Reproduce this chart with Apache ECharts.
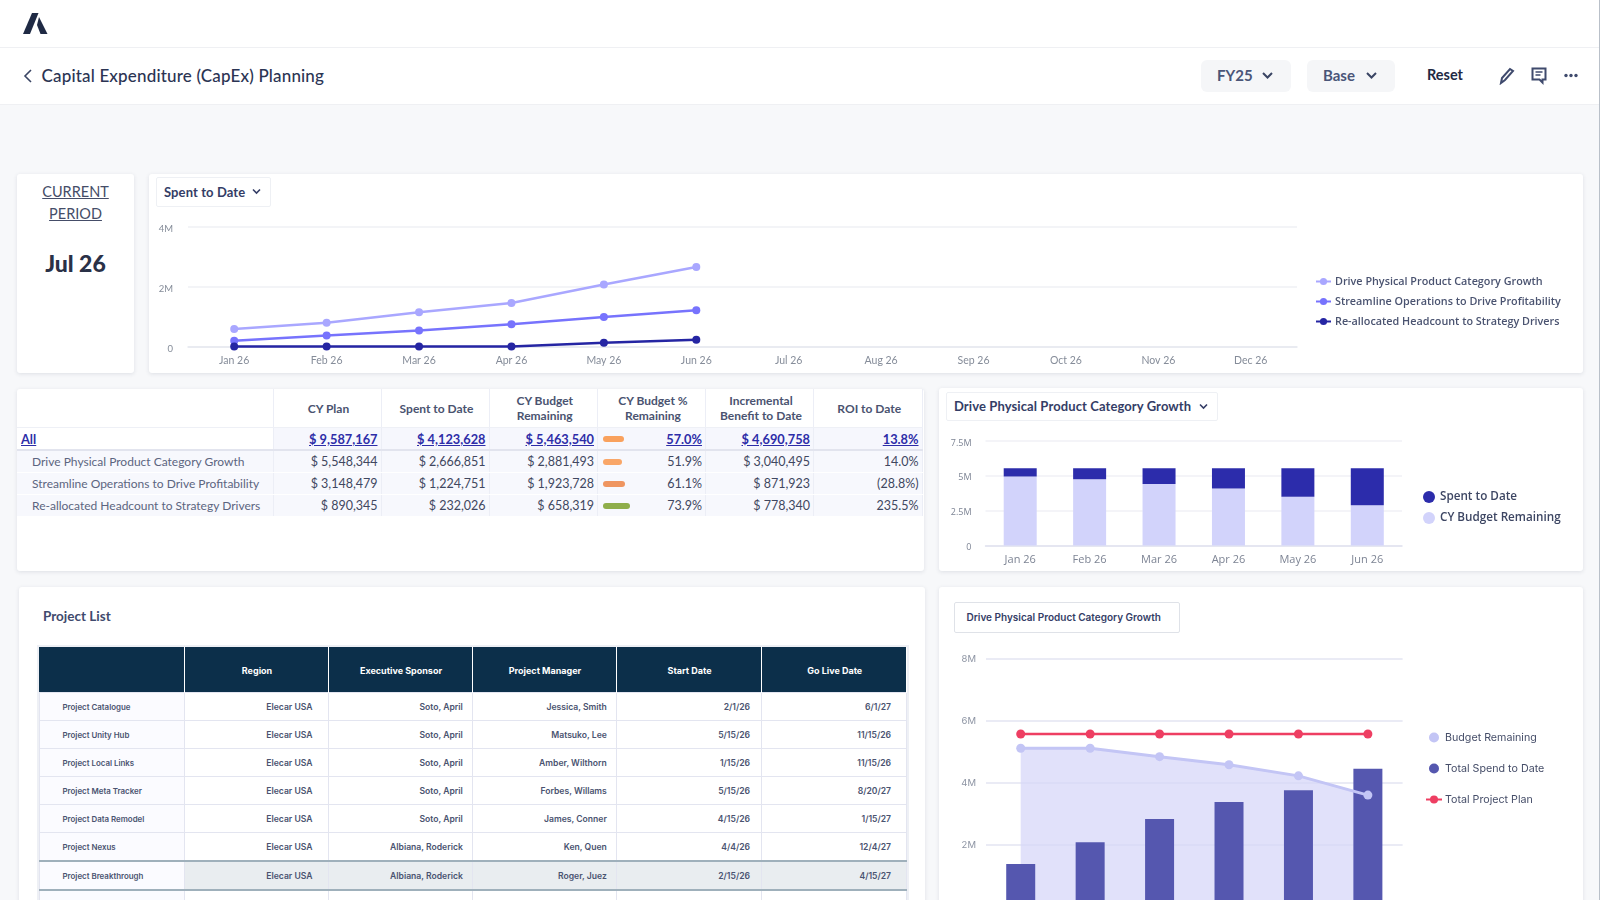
<!DOCTYPE html>
<html>
<head>
<meta charset="utf-8">
<title>Capital Expenditure (CapEx) Planning</title>
<script src="https://cdn.jsdelivr.net/npm/echarts@6/dist/echarts.min.js"></script>
<style>
	html, body { margin: 0; padding: 0; width: 1600px; height: 900px; overflow: hidden; background: #f7f8fa; font-family: Lato, "Noto Sans", sans-serif; color: #3f4760; }
	.abs { position: absolute; }
	.card { position: absolute; background: #fff; border-radius: 3px; box-shadow: 0 1px 4px rgba(40, 50, 80, .12); }
	.btn { position: absolute; background: #f5f6f8; border-radius: 6px; top: 60px; height: 32px; }
	.drop { position: absolute; background: #fff; border: 1px solid #eef0f4; border-radius: 2px; box-sizing: border-box; font-weight: 700; font-size: 13px; color: #343d66; }
	.chart { position: absolute; }
	table { border-collapse: collapse; table-layout: fixed; position: absolute; }
	#summary td, #summary th { border-right: 1px solid #eceef6; padding: 0 3px 0 0; white-space: nowrap; font-size: 12.5px; text-align: right; }
	#summary th { font-weight: 700; font-size: 12px; text-align: center; line-height: 15px; color: #4a5370; white-space: normal; height: 38px; padding: 0 0 0 3px; border-bottom: 1px solid #eef0f6; }
	#summary td { background: #f7f8fd; border-bottom: 1px solid #fff; height: 21px; }
	#summary tr.all td { color: #2d2da8; font-weight: 700; text-decoration: underline; background: #f6f7fd; border-bottom: 2px solid #e2e4ee; font-size: 12.8px; }
	#summary td.name { text-align: left; padding-left: 15px; color: #5c6580; font-size: 12px; }
	#summary tr.all td.name { padding-left: 4px; background: #fff; }
	.pill { position: absolute; left: 5px; top: 50%; height: 6px; margin-top: -3px; border-radius: 3px; }
	#projects { font-family: Inter, sans-serif; font-size: 8.6px; font-weight: 600; color: #4a5370; box-shadow: 0 0 0 2px #eef0f5; }
	#projects th { background: #0c2f4a; color: #fff; font-weight: 700; height: 43px; border-right: 1px solid #fff; font-size: 9px; padding: 2px 0 0 2px; }
	#projects td { height: 25px; border: 1px solid #e3e5f0; text-align: right; white-space: nowrap; padding: 2px 0 0 0; line-height: 12px; }
	#projects td.name { text-align: left; padding: 2px 0 0 23px; background: #fbfbff; font-size: 7.9px; }
	#projects tr.hl td { border-top: 2px solid #9fb0bb; border-bottom: 2px solid #9fb0bb; background: #e9edf0; }
	#projects tr.hl td.name { background: #fbfbff; }
</style>
</head>
<body>

<!-- 顶部导航 -->
<div class="abs" style="left:0;top:0;width:1600px;height:104px;background:#fff;"></div>
<div class="abs" style="left:0;top:47px;width:1600px;height:1px;background:#eff0f3;"></div>
<div class="abs" style="left:0;top:104px;width:1600px;height:1px;background:#eff0f3;"></div>
<svg class="abs" style="left:23px;top:13px;" width="25" height="22" viewBox="0 0 25 22">
	<path d="M9 0h6.500L7 21H0z" fill="#1f2a44"/>
	<path d="M16 4l8.500 17H17.500L14 12z" fill="#1f2a44"/>
</svg>
<svg class="abs" style="left:23px;top:69px;" width="10" height="14"><path d="M8 1L2 7l6 6" fill="none" stroke="#3a4564" stroke-width="1.6"/></svg>
<div class="abs" style="left:41.500px;top:65px;font-size:17px;line-height:22px;color:#2b3453;font-weight:500;letter-spacing:.17px;">Capital Expenditure (CapEx) Planning</div>

<div class="btn" style="left:1201px;width:90px;"></div>
<div class="abs" style="left:1217px;top:65px;font-size:15px;line-height:20px;font-weight:700;color:#4a5578;">FY25</div>
<svg class="abs" style="left:1262px;top:71px;" width="11" height="9"><path d="M1 2l4.500 4.500L10 2" fill="none" stroke="#3a4564" stroke-width="2"/></svg>
<div class="btn" style="left:1307px;width:88px;"></div>
<div class="abs" style="left:1323px;top:65px;font-size:15px;line-height:20px;font-weight:700;color:#4a5578;">Base</div>
<svg class="abs" style="left:1366px;top:71px;" width="11" height="9"><path d="M1 2l4.500 4.500L10 2" fill="none" stroke="#3a4564" stroke-width="2"/></svg>
<div class="abs" style="left:1427px;top:65px;font-size:14.500px;line-height:20px;font-weight:700;color:#1f2a44;">Reset</div>
<svg class="abs" style="left:1499px;top:67px;" width="16" height="18"><path d="M2 16l1-5 8-9 3 2-8 9z" fill="none" stroke="#3f4a6d" stroke-width="2"/></svg>
<svg class="abs" style="left:1531px;top:67px;" width="17" height="18"><path d="M1.500 1.500h13v11h-3v3l-3-3h-7z" fill="none" stroke="#3f4a6d" stroke-width="2"/><path d="M4.500 5h7M4.500 8h5" stroke="#3f4a6d" stroke-width="1.400"/></svg>
<svg class="abs" style="left:1564px;top:73px;" width="15" height="5"><circle cx="2" cy="2.500" r="1.700" fill="#3f4a6d"/><circle cx="7" cy="2.500" r="1.700" fill="#3f4a6d"/><circle cx="12" cy="2.500" r="1.700" fill="#3f4a6d"/></svg>
<div class="abs" style="left:1599px;top:0;width:1px;height:900px;background:#b9c0c9;"></div>

<!-- 当前期间 -->
<div class="card" style="left:17px;top:174px;width:117px;height:199px;"></div>
<div class="abs" style="left:17px;top:181px;width:117px;text-align:center;font-size:14.500px;line-height:22px;color:#454d68;text-decoration:underline;">CURRENT<br>PERIOD</div>
<div class="abs" style="left:17px;top:249px;width:117px;text-align:center;font-size:23px;line-height:28px;font-weight:900;color:#2a3147;">Jul 26</div>

<!-- 折线图 -->
<div class="card" style="left:149px;top:174px;width:1434px;height:199px;"></div>
<div class="chart" id="spendTrend" style="left:149px;top:174px;width:1434px;height:199px;"></div>
<div class="drop" style="left:156px;top:177px;width:115px;height:30px;line-height:28px;padding-left:7px;letter-spacing:.1px;">Spent to Date</div>
<svg class="abs" style="left:252px;top:188px;" width="9" height="7"><path d="M1 1.500l3.500 3.500L8 1.500" fill="none" stroke="#343d66" stroke-width="1.600"/></svg>

<!-- 汇总表 -->
<div class="card" style="left:17px;top:389px;width:907px;height:182px;"></div>
<table id="summary" style="left:17px;top:389px;width:905px;"></table>

<!-- 堆叠柱状图 -->
<div class="card" style="left:939px;top:388px;width:644px;height:183px;"></div>
<div class="chart" id="budgetStack" style="left:939px;top:388px;width:644px;height:183px;"></div>
<div class="drop" style="left:946px;top:392px;width:272px;height:29px;line-height:27px;padding-left:7px;letter-spacing:.1px;">Drive Physical Product Category Growth</div>
<svg class="abs" style="left:1199px;top:403px;" width="9" height="7"><path d="M1 1.500l3.500 3.500L8 1.500" fill="none" stroke="#343d66" stroke-width="1.600"/></svg>

<!-- 项目列表 -->
<div class="card" style="left:19px;top:587px;width:906px;height:330px;"></div>
<div class="abs" style="left:43px;top:607px;font-size:13.500px;line-height:18px;font-weight:700;color:#3f4a6d;">Project List</div>
<table id="projects" style="left:38.500px;top:646.700px;width:867.500px;"></table>

<!-- 组合图 -->
<div class="card" style="left:939px;top:587px;width:644px;height:330px;"></div>
<div class="chart" id="planCombo" style="left:939px;top:587px;width:644px;height:400px;"></div>
<div class="drop" style="left:953.500px;top:602px;width:226px;height:31px;line-height:29px;padding-left:12px;font-family:Inter,sans-serif;font-size:10px;font-weight:600;border-color:#dfe2e8;">Drive Physical Product Category Growth</div>

<script type="text/javascript">
	// 图表数据
	var months = ['Jan 26', 'Feb 26', 'Mar 26', 'Apr 26', 'May 26', 'Jun 26', 'Jul 26', 'Aug 26', 'Sep 26', 'Oct 26', 'Nov 26', 'Dec 26'];
	var months6 = ['Jan 26', 'Feb 26', 'Mar 26', 'Apr 26', 'May 26', 'Jun 26'];

	var driveGrowth = [600000, 810000, 1157000, 1470000, 2080000, 2667000];
	var streamline = [210000, 380000, 547000, 757000, 1000000, 1225000];
	var reallocated = [20000, 20000, 20000, 20000, 145000, 240000];

	var spentToDate = [600000, 800000, 1130000, 1460000, 2050000, 2670000];
	var budgetRemaining = [4950000, 4750000, 4420000, 4090000, 3500000, 2880000];

	var comboRemaining = [5120000, 5120000, 4850000, 4590000, 4230000, 3610000];
	var comboSpend = [1390000, 2090000, 2840000, 3390000, 3770000, 4460000];
	var comboPlan = [5580000, 5580000, 5580000, 5580000, 5580000, 5580000];

	// 表格数据
	var summaryHead = ['', 'CY Plan', 'Spent to Date', 'CY Budget<br>Remaining', 'CY Budget %<br>Remaining', 'Incremental<br>Benefit to Date', 'ROI to Date'];
	var summaryRows = [
		['All', '$ 9,587,167', '$ 4,123,628', '$ 5,463,540', '57.0%', '$ 4,690,758', '13.8%'],
		['Drive Physical Product Category Growth', '$ 5,548,344', '$ 2,666,851', '$ 2,881,493', '51.9%', '$ 3,040,495', '14.0%'],
		['Streamline Operations to Drive Profitability', '$ 3,148,479', '$ 1,224,751', '$ 1,923,728', '61.1%', '$ 871,923', '(28.8%)'],
		['Re-allocated Headcount to Strategy Drivers', '$ 890,345', '$ 232,026', '$ 658,319', '73.9%', '$ 778,340', '235.5%']
	];
	var pillColors = ['#f9a15d', '#f9a668', '#ef9560', '#8fae4b'];

	var projectHead = ['', 'Region', 'Executive Sponsor', 'Project Manager', 'Start Date', 'Go Live Date'];
	var projectRows = [
		['Project Catalogue', 'Elecar USA', 'Soto, April', 'Jessica, Smith', '2/1/26', '6/1/27'],
		['Project Unity Hub', 'Elecar USA', 'Soto, April', 'Matsuko, Lee', '5/15/26', '11/15/26'],
		['Project Local Links', 'Elecar USA', 'Soto, April', 'Amber, Wilthorn', '1/15/26', '11/15/26'],
		['Project Meta Tracker', 'Elecar USA', 'Soto, April', 'Forbes, Willams', '5/15/26', '8/20/27'],
		['Project Data Remodel', 'Elecar USA', 'Soto, April', 'James, Conner', '4/15/26', '1/15/27'],
		['Project Nexus', 'Elecar USA', 'Albiana, Roderick', 'Ken, Quen', '4/4/26', '12/4/27'],
		['Project Breakthrough', 'Elecar USA', 'Albiana, Roderick', 'Roger, Juez', '2/15/26', '4/15/27'],
		['', '', '', '', '', '']
	];

	function buildSummary() {
		var widths = [256, 108, 108, 108.5, 108, 108, 108.5];
		var html = '<colgroup>';
		widths.forEach(function (w) { html += '<col style="width:' + w + 'px">'; });
		html += '</colgroup><tr>';
		summaryHead.forEach(function (h) { html += '<th>' + h + '</th>'; });
		html += '</tr>';
		summaryRows.forEach(function (row, r) {
			html += '<tr class="' + (r == 0 ? 'all' : '') + '">';
			row.forEach(function (v, c) {
				var cls = c == 0 ? 'name' : '';
				var inner = v;
				if (c == 4) {
					// 条形宽度跟百分比走
					var pw = parseFloat(v) * 0.36;
					inner = '<span class="pill" style="width:' + pw + 'px;background:' + pillColors[r] + '"></span>' + v;
				}
				html += '<td class="' + cls + '" style="position:relative">' + inner + '</td>';
			});
			html += '</tr>';
		});
		document.getElementById('summary').innerHTML = html;
	}

	function buildProjects() {
		var widths = [145, 144, 144, 144, 145, 145.5];
		var pads = [0, 15, 8.7, 8.7, 10.5, 15];
		var html = '<colgroup>';
		widths.forEach(function (w) { html += '<col style="width:' + w + 'px">'; });
		html += '</colgroup><tr>';
		projectHead.forEach(function (h) { html += '<th>' + h + '</th>'; });
		html += '</tr>';
		projectRows.forEach(function (row, r) {
			html += '<tr class="' + (r == 6 ? 'hl' : '') + '">';
			row.forEach(function (v, c) {
				if (c == 0) {
					html += '<td class="name">' + v + '</td>';
				} else {
					html += '<td style="padding-right:' + pads[c] + 'px">' + v + '</td>';
				}
			});
			html += '</tr>';
		});
		document.getElementById('projects').innerHTML = html;
	}

	function moneyLabel(v) {
		return v == 0 ? '0' : (v / 1000000) + 'M';
	}

	function lineSeries(name, data, color, z) {
		return {
			name: name,
			type: 'line',
			data: data,
			z: z,
			symbol: 'circle',
			symbolSize: 8,
			lineStyle: { color: color, width: 2.5 },
			itemStyle: { color: color }
		};
	}

	buildSummary();
	buildProjects();

	var spendTrend = echarts.init(document.getElementById('spendTrend'));
	spendTrend.setOption({
		animation: false,
		grid: { left: 39, right: 286, top: 53, bottom: 26 },
		legend: {
			orient: 'vertical',
			left: 1161,
			top: 97,
			itemWidth: 15,
			itemHeight: 9,
			itemGap: 9,
			textStyle: { color: '#4a5370', fontSize: 10.8, fontWeight: 600, fontFamily: 'Open Sans', padding: [0, 0, 0, -1] }
		},
		xAxis: {
			type: 'category',
			data: months,
			axisTick: { show: false },
			axisLine: { lineStyle: { color: '#e6e8f0', width: 1.5 } },
			axisLabel: { color: '#858c99', fontSize: 10.5, margin: 8, fontFamily: 'Lato' }
		},
		yAxis: {
			type: 'value',
			min: 0,
			max: 4000000,
			interval: 2000000,
			splitLine: { lineStyle: { color: '#eff0f4', width: 1.5 } },
			axisLine: { show: false },
			axisLabel: { color: '#858c99', fontSize: 9.5, margin: 15, verticalAlign: 'top', lineHeight: 4, fontFamily: 'Lato', formatter: moneyLabel }
		},
		series: [
			lineSeries('Drive Physical Product Category Growth', driveGrowth, '#a9a7ff', 3),
			lineSeries('Streamline Operations to Drive Profitability', streamline, '#7773fd', 4),
			lineSeries('Re-allocated Headcount to Strategy Drivers', reallocated, '#2525a3', 5)
		]
	});

	var budgetStack = echarts.init(document.getElementById('budgetStack'));
	budgetStack.setOption({
		animation: false,
		grid: { left: 46.5, right: 181, top: 53, bottom: 25.5 },
		legend: {
			orient: 'vertical',
			left: 479,
			top: 98,
			itemWidth: 12,
			itemHeight: 12,
			itemGap: 9,
			icon: 'circle',
			data: ['Spent to Date', 'CY Budget Remaining'],
			textStyle: { color: '#3d4663', fontSize: 11.7, fontWeight: 600, fontFamily: 'Open Sans' }
		},
		xAxis: {
			type: 'category',
			data: months6,
			axisTick: { show: false },
			axisLine: { lineStyle: { color: '#dfe1ee', width: 1.5 } },
			axisLabel: { color: '#7d8494', fontSize: 11, margin: 9, fontFamily: 'Open Sans' }
		},
		yAxis: {
			type: 'value',
			min: 0,
			max: 7500000,
			interval: 2500000,
			splitLine: { lineStyle: { color: '#f0f1f6', width: 1.5 } },
			axisLine: { show: false },
			axisLabel: { color: '#7d8494', fontSize: 9, margin: 14, verticalAlign: 'top', lineHeight: 4, fontFamily: 'Open Sans', formatter: moneyLabel }
		},
		series: [
			{ name: 'CY Budget Remaining', type: 'bar', stack: 'plan', barWidth: 33, data: budgetRemaining, itemStyle: { color: '#d2d3fb' } },
			{ name: 'Spent to Date', type: 'bar', stack: 'plan', barWidth: 33, data: spentToDate, itemStyle: { color: '#2c2cab' } }
		]
	});

	var planCombo = echarts.init(document.getElementById('planCombo'));
	planCombo.setOption({
		animation: false,
		grid: { left: 47, right: 180.4, top: 72, bottom: 80 },
		legend: {
			orient: 'vertical',
			left: 481,
			top: 140,
			itemWidth: 16,
			itemHeight: 10,
			itemGap: 20,
			textStyle: { color: '#454d68', fontSize: 10.7, fontFamily: 'Inter', padding: [0, 0, 0, -2] },
			data: [
				{ name: 'Budget Remaining', icon: 'circle' },
				{ name: 'Total Spend to Date', icon: 'circle' },
				{ name: 'Total Project Plan' }
			]
		},
		xAxis: {
			type: 'category',
			data: months6,
			axisTick: { show: false },
			axisLine: { lineStyle: { color: '#dfe1ee' } },
			axisLabel: { color: '#858c99', fontSize: 10 }
		},
		yAxis: {
			type: 'value',
			min: 0,
			max: 8000000,
			interval: 2000000,
			splitLine: { lineStyle: { color: '#e3e5f2', width: 1.5 } },
			axisLine: { show: false },
			axisLabel: { color: '#8d94a3', fontSize: 9.5, margin: 10, fontFamily: 'Inter', formatter: moneyLabel }
		},
		series: [
			// 面积单独一层，压在柱子下面
			{
				name: 'Budget Remaining',
				type: 'line',
				data: comboRemaining,
				z: 1,
				symbol: 'none',
				lineStyle: { width: 0 },
				itemStyle: { color: '#c3c5f5' },
				areaStyle: { color: '#d5d6f8', opacity: 0.72 }
			},
			{
				name: 'Total Spend to Date',
				type: 'bar',
				barWidth: 29,
				data: comboSpend,
				z: 3,
				itemStyle: { color: '#5557af' }
			},
			{
				name: 'Budget Remaining',
				type: 'line',
				data: comboRemaining,
				z: 4,
				symbol: 'circle',
				symbolSize: 9,
				lineStyle: { color: '#c3c5f5', width: 3 },
				itemStyle: { color: '#c3c5f5' }
			},
			{
				name: 'Total Project Plan',
				type: 'line',
				data: comboPlan,
				z: 5,
				symbol: 'circle',
				symbolSize: 9,
				lineStyle: { color: '#ee3e62', width: 2.5 },
				itemStyle: { color: '#ee3e62' }
			}
		]
	});
</script>
</body>
</html>
